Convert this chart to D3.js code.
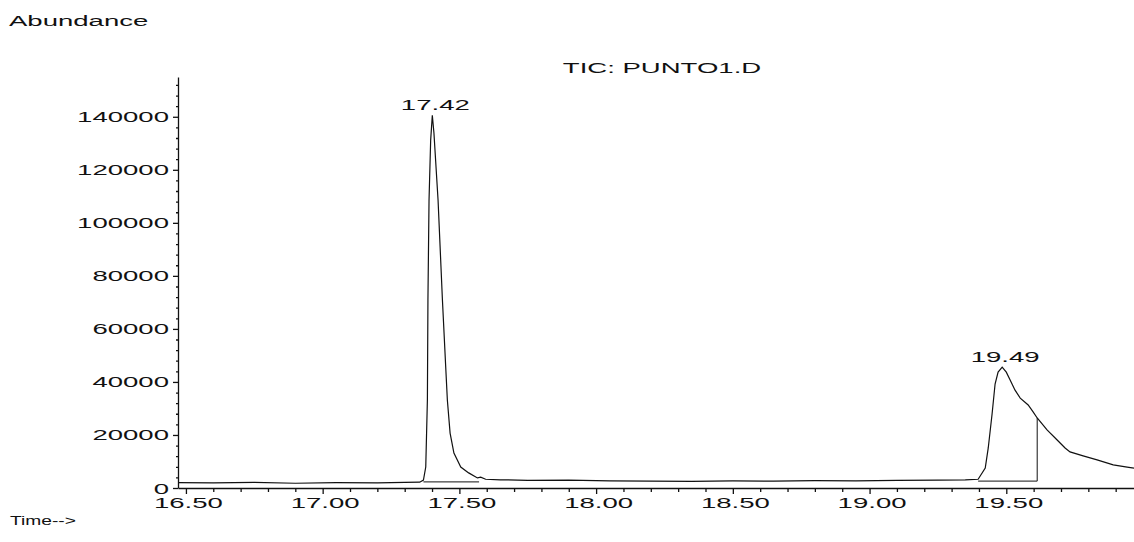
<!DOCTYPE html>
<html>
<head>
<meta charset="utf-8">
<script src="https://cdn.jsdelivr.net/npm/d3@7"></script>
<style>
  body { margin: 0; background: #fff; }
  svg text { font-family: "Liberation Sans", Arial, sans-serif; font-size: 14.5px; fill: #111; }
</style>
</head>
<body>
<svg id="chart" width="1134" height="542"></svg>
<script>
// chromatogram trace
var timeMin = [16.471, 16.60, 16.75, 16.90, 17.05, 17.20, 17.30, 17.355,
  17.3685, 17.377, 17.383, 17.385, 17.389, 17.395, 17.401, 17.407, 17.422, 17.438,
  17.450, 17.456, 17.466, 17.480, 17.505, 17.534, 17.566, 17.578, 17.596,
  17.65, 17.75, 17.90, 18.05, 18.20, 18.35, 18.50, 18.65, 18.80, 18.95, 19.10, 19.25, 19.35, 19.397,
  19.423, 19.434, 19.448, 19.459, 19.470, 19.485, 19.500, 19.514, 19.532, 19.551, 19.580,
  19.598, 19.613, 19.649, 19.686, 19.715, 19.733, 19.781, 19.832, 19.891, 19.942, 19.967];
var abundance = [2000, 1900, 2100, 1800, 2000, 1900, 2100, 2200,
  3000, 7900, 33200, 70900, 108600, 131200, 140600, 133800, 108600, 70900,
  45600, 33200, 20700, 13200, 7900, 5700, 3800, 4100, 3300,
  3100, 2900, 3000, 2700, 2600, 2500, 2700, 2600, 2800, 2700, 2900, 3000, 3100, 3300,
  7500, 15100, 27900, 39200, 43700, 45600, 43700, 40700, 36900, 33900, 31300,
  28700, 26400, 21900, 18100, 15100, 13600, 12100, 10600, 8700, 7900, 7500];

// integration marks
var peakLabels = ["17.42", "19.49"];
var peakTimes = [17.401, 19.485];
var peakHeights = [140600, 45600];
var baseStart = [17.3685, 19.397];
var baseEnd = [17.572, 19.613];
var baseLevel = [2300, 2600];
var dropTop = [null, 26400];

var xMajor = [16.5, 17.0, 17.5, 18.0, 18.5, 19.0, 19.5];
var yMajor = [0, 20000, 40000, 60000, 80000, 100000, 120000, 140000];

var sx = 1.9; // text on the scan is stretched sideways

var svg = d3.select("#chart");

var x = d3.scaleLinear().domain([16.471, 19.967]).range([178, 1134]);
var y = d3.scaleLinear().domain([0, 155000]).range([488, 77]);

function stretchedText(g, tx, ty, str, k) {
  return g.append("text")
    .attr("transform", "translate(" + tx + "," + ty + ") scale(" + (k || sx) + ",1)")
    .text(str);
}

// minor ticks
var xMinor = d3.range(165, 200).map(function(d) { return d / 10; })
  .filter(function(d) { return d >= 16.5 && d <= 19.96 && xMajor.indexOf(d) < 0; });
svg.append("g")
  .attr("transform", "translate(0,488)")
  .call(d3.axisBottom(x).tickValues(xMinor).tickSize(4).tickFormat(""))
  .call(function(g) { g.select(".domain").remove(); });

var yMinor = d3.range(0, 155000, 4000).filter(function(d) { return d % 20000 != 0; });
svg.append("g")
  .attr("transform", "translate(178,0)")
  .call(d3.axisLeft(y).tickValues(yMinor).tickSize(2).tickFormat(""))
  .call(function(g) { g.select(".domain").remove(); });

// main axes
var xAxis = svg.append("g")
  .attr("transform", "translate(0,488)")
  .call(d3.axisBottom(x).tickValues(xMajor).tickSize(6).tickSizeOuter(0).tickFormat(d3.format(".2f")));
xAxis.selectAll("text")
  .attr("y", null).attr("dy", null)
  .attr("transform", "translate(2,20) scale(" + sx + ",1)");

var yAxis = svg.append("g")
  .attr("transform", "translate(178,0)")
  .call(d3.axisLeft(y).tickValues(yMajor).tickSize(5).tickSizeOuter(0).tickFormat(d3.format("d")));
yAxis.selectAll("text")
  .attr("x", null).attr("dy", null)
  .attr("transform", "translate(-9,5) scale(" + sx + ",1)");

svg.selectAll(".domain, .tick line").attr("stroke", "#111").attr("stroke-width", 1.3);
svg.selectAll(".tick text").style("font-size", "14.5px").attr("fill", "#111");

// trace
var line = d3.line()
  .x(function(d, i) { return x(timeMin[i]); })
  .y(function(d) { return y(d); });

svg.append("path")
  .datum(abundance)
  .attr("d", line)
  .attr("fill", "none")
  .attr("stroke", "#111")
  .attr("stroke-width", 1.2);

// integration baselines
for (var i = 0; i < baseStart.length; i++) {
  svg.append("line")
    .attr("x1", x(baseStart[i])).attr("x2", x(baseEnd[i]))
    .attr("y1", y(baseLevel[i])).attr("y2", y(baseLevel[i]))
    .attr("stroke", "#111").attr("stroke-width", 1);
  if (dropTop[i] != null) {
    svg.append("line")
      .attr("x1", x(baseEnd[i])).attr("x2", x(baseEnd[i]))
      .attr("y1", y(baseLevel[i])).attr("y2", y(dropTop[i]))
      .attr("stroke", "#111").attr("stroke-width", 1);
  }
}

// peak labels
for (var j = 0; j < peakLabels.length; j++) {
  stretchedText(svg, x(peakTimes[j]) + 3, y(peakHeights[j]) - 5, peakLabels[j])
    .attr("text-anchor", "middle");
}

// titles
stretchedText(svg, 9, 26, "Abundance");
stretchedText(svg, 662, 73, "TIC: PUNTO1.D").attr("text-anchor", "middle");
stretchedText(svg, 10, 525, "Time-->", 1.6).style("font-size", "12px");
</script>
</body>
</html>
